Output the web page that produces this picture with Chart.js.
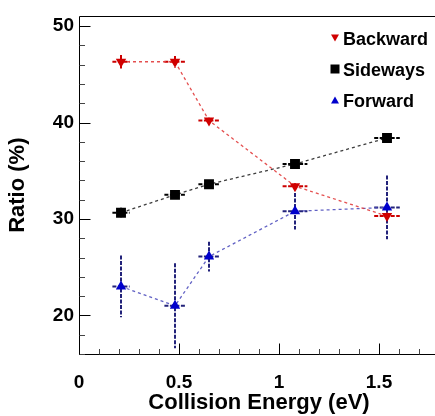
<!DOCTYPE html>
<html>
<head>
<meta charset="utf-8">
<script src="https://cdn.jsdelivr.net/npm/chart.js@4/dist/chart.umd.min.js"></script>
<style>
html, body { margin: 0; padding: 0; overflow: hidden; background: #fff; }
canvas { display: block; }
</style>
</head>
<body>
<canvas id="c" width="446" height="416"></canvas>
<script>
// ---- data ----
const energies   = [0.21, 0.48, 0.65, 1.08, 1.54];
const energyErr  = [0.043, 0.053, 0.053, 0.062, 0.064];
const backward    = [46.3, 46.3, 40.2, 33.4, 30.3];
const backwardErr = [0.7, 0.6, 0.3, 0.3, 0.4];
const sideways    = [30.65, 32.5, 33.6, 35.7, 38.4];
const sidewaysErr = [0.5, 0.4, 0.4, 0.4, 0.4];
const forward     = [23.0, 21.0, 26.1, 30.8, 31.2];
const forwardErr  = [3.2, 4.4, 1.55, 1.9, 3.3];
const seriesNames = ['Backward', 'Sideways', 'Forward'];
const xTickValues = [0, 0.5, 1, 1.5];
const xTickLabels = ['0', '0.5', '1', '1.5'];
const yTickValues = [20, 30, 40, 50];
const yTickLabels = ['20', '30', '40', '50'];

const FONT = '"Liberation Sans", Arial, Helvetica, sans-serif';

function pts(ys, yerr) {
  return energies.map((x, i) => ({ x: x, y: ys[i], xerr: energyErr[i], yerr: yerr[i] }));
}

const styles = [
  { line: 'rgba(225,60,60,0.9)', err: '#cc0000', marker: '#d00000', shape: 'down', r: 6 },
  { line: 'rgba(40,40,40,0.9)', err: '#000000', marker: '#000000', shape: 'rect', r: 7 },
  { line: 'rgba(80,80,190,0.9)', err: '#22227a', marker: '#0000cc', shape: 'up', r: 6 }
];

const datasets = [backward, sideways, forward].map((ys, k) => ({
  label: seriesNames[k],
  data: pts(ys, [backwardErr, sidewaysErr, forwardErr][k]),
  showLine: true,
  borderColor: styles[k].line,
  borderWidth: 1.3,
  borderDash: [3, 3],
  backgroundColor: styles[k].marker,
  pointBackgroundColor: styles[k].marker,
  pointBorderColor: styles[k].marker,
  pointBorderWidth: 0,
  pointStyle: styles[k].shape === 'rect' ? 'rect' : 'triangle',
  rotation: styles[k].shape === 'down' ? 180 : 0,
  pointRadius: styles[k].r,
  pointHoverRadius: styles[k].r,
  tension: 0
}));

const errorBars = {
  id: 'errorBars',
  beforeDatasetsDraw(chart) {
    const ctx = chart.ctx, xs = chart.scales.x, ys = chart.scales.y;
    ctx.save();
    chart.data.datasets.forEach((ds, k) => {
      ctx.strokeStyle = styles[k].err;
      ctx.lineWidth = 2;
      ctx.setLineDash([4, 1.5]);
      ds.data.forEach(p => {
        const px = xs.getPixelForValue(p.x), py = ys.getPixelForValue(p.y);
        ctx.beginPath();
        ctx.moveTo(xs.getPixelForValue(p.x - p.xerr), py);
        ctx.lineTo(xs.getPixelForValue(p.x + p.xerr), py);
        ctx.moveTo(px, ys.getPixelForValue(p.y + p.yerr));
        ctx.lineTo(px, ys.getPixelForValue(p.y - p.yerr));
        ctx.stroke();
      });
    });
    ctx.restore();
  }
};

const frameAndTicks = {
  id: 'frameAndTicks',
  afterDraw(chart) {
    const ctx = chart.ctx, xs = chart.scales.x, ys = chart.scales.y, a = chart.chartArea;
    ctx.save();
    ctx.setLineDash([]);
    ctx.lineWidth = 1;
    // frame
    ctx.strokeStyle = '#000';
    ctx.beginPath();
    const L = Math.round(a.left) + 0.5, B = Math.round(a.bottom) + 0.5, T = Math.round(a.top) + 0.5, R = Math.round(a.right) - 0.5;
    ctx.moveTo(L, T); ctx.lineTo(L, B); ctx.lineTo(R, B); ctx.lineTo(R, T); ctx.lineTo(L, T);
    ctx.stroke();
    // y ticks (inward)
    for (let v = 16; v <= 51.001; v += 2) {
      const major = Math.abs(v % 10) < 1e-6;
      const y = Math.round(ys.getPixelForValue(v)) + 0.5;
      ctx.strokeStyle = major ? '#000' : '#444';
      ctx.beginPath(); ctx.moveTo(L, y); ctx.lineTo(L + (major ? 11 : 5.5), y); ctx.stroke();
    }
    // x ticks (inward)
    for (let i = 0; i <= 18; i++) {
      const v = i / 10;
      const major = i % 5 === 0;
      const x = Math.round(xs.getPixelForValue(v)) + 0.5;
      ctx.strokeStyle = major ? '#000' : '#444';
      ctx.beginPath(); ctx.moveTo(x, B); ctx.lineTo(x, B - (major ? 11 : 5.5)); ctx.stroke();
    }
    // legend
    const lx = 335, rows = [38, 69, 100];
    ctx.font = 'bold 18px ' + FONT;
    ctx.textBaseline = 'middle';
    ctx.textAlign = 'left';
    chart.data.datasets.forEach((ds, k) => {
      const cy = rows[k];
      ctx.fillStyle = styles[k].marker;
      ctx.beginPath();
      if (styles[k].shape === 'rect') {
        ctx.rect(lx - 4.5, cy - 4.5, 9, 9);
      } else if (styles[k].shape === 'down') {
        ctx.moveTo(lx - 4, cy - 3.5); ctx.lineTo(lx + 4, cy - 3.5); ctx.lineTo(lx, cy + 3.5); ctx.closePath();
      } else {
        ctx.moveTo(lx - 4, cy + 3.5); ctx.lineTo(lx + 4, cy + 3.5); ctx.lineTo(lx, cy - 3.5); ctx.closePath();
      }
      ctx.fill();
      ctx.fillStyle = '#000';
      ctx.fillText(ds.label, 343, cy + 2);
    });
    ctx.restore();
  }
};

new Chart(document.getElementById('c'), {
  type: 'line',
  data: { datasets: datasets },
  options: {
    responsive: false,
    animation: false,
    devicePixelRatio: 1,
    layout: { padding: { top: 16, right: 0, left: 0, bottom: 0 } },
    plugins: { legend: { display: false }, tooltip: { enabled: false } },
    scales: {
      x: {
        type: 'linear', min: 0, max: 1.8,
        afterBuildTicks(s) { s.ticks = xTickValues.map(v => ({ value: v })); },
        afterFit(s) { s.height = 62; },
        grid: { display: false, drawTicks: false },
        border: { display: false },
        ticks: {
          autoSkip: false, maxRotation: 0, padding: 17, color: '#000',
          font: { family: FONT, size: 19, weight: 'bold' },
          callback: (v) => xTickLabels[xTickValues.indexOf(v)]
        },
        title: {
          display: true, text: 'Collision Energy (eV)', color: '#000',
          font: { family: FONT, size: 22, weight: 'bold' },
          padding: { top: 0, bottom: 0 }
        }
      },
      y: {
        type: 'linear', min: 16, max: 51,
        afterBuildTicks(s) { s.ticks = yTickValues.map(v => ({ value: v })); },
        afterFit(s) { s.width = 79; },
        grid: { display: false, drawTicks: false },
        border: { display: false },
        ticks: {
          autoSkip: false, padding: 5, color: '#000',
          font: { family: FONT, size: 19, weight: 'bold' },
          callback: (v) => yTickLabels[yTickValues.indexOf(v)]
        },
        title: {
          display: true, text: 'Ratio (%)', color: '#000',
          font: { family: FONT, size: 22, weight: 'bold' },
          padding: { top: 5, bottom: 0 }
        }
      }
    }
  },
  plugins: [errorBars, frameAndTicks]
});
</script>
</body>
</html>
